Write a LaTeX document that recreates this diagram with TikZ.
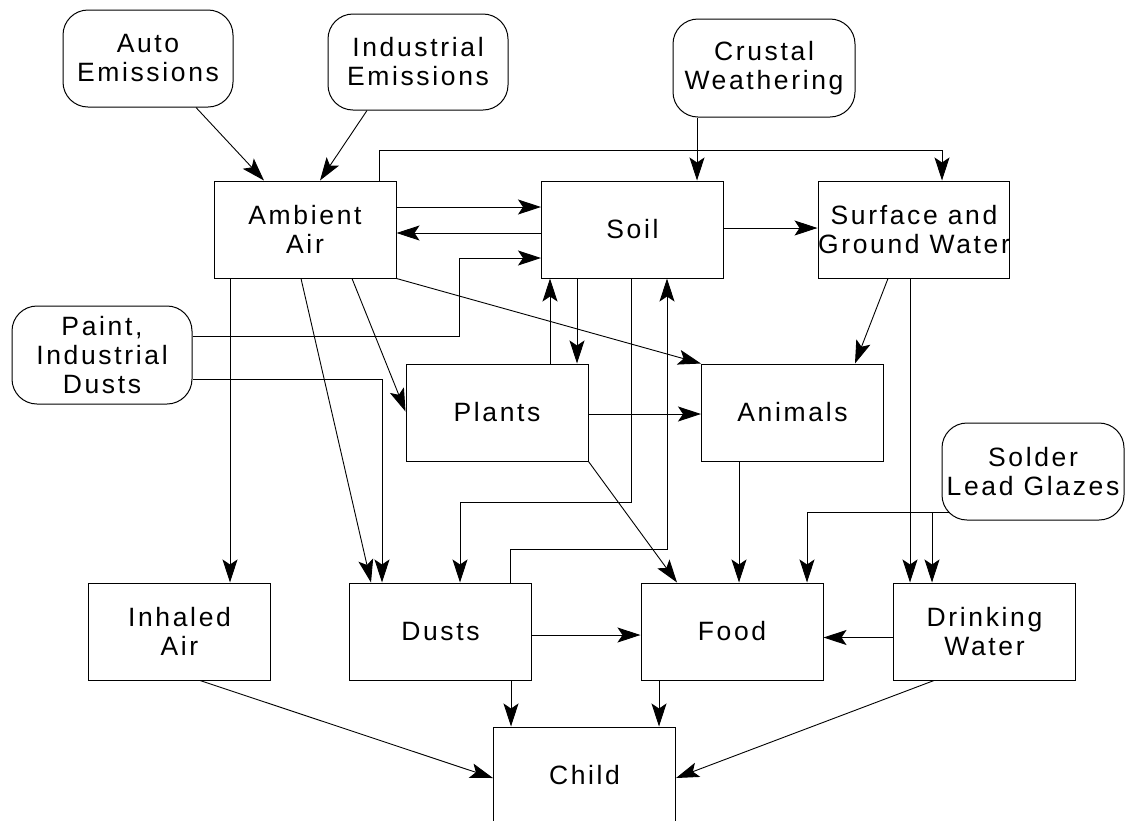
\documentclass[tikz,border=0pt]{standalone}
\usepackage{fontspec}
\setmainfont[LetterSpace=10]{Liberation Sans}
\usetikzlibrary{arrows.meta}
\begin{document}
\begin{tikzpicture}[x=1pt,y=-1pt,
  every node/.style={font=\fontsize{26.5}{29}\selectfont, align=center, inner sep=0pt},
  boxnode/.style={draw, line width=1pt, minimum width=182pt, minimum height=97pt},
  srcnode/.style={draw, line width=1pt, rounded corners=25pt, minimum width=182pt, minimum height=97pt},
  arr/.style={line width=0.9pt, -{Stealth[length=23pt,width=15pt,inset=5pt]}}]
\useasboundingbox (0,0) rectangle (1127,820);

% source nodes
\node[srcnode, minimum width=170pt] (auto) at (148,58.5) {Auto\\Emissions};
\node[srcnode, minimum width=180pt, minimum height=96pt] (indem) at (418,62) {Industrial\\Emissions};
\node[srcnode, minimum height=98pt] (crust) at (764,68) {Crustal\\Weathering};
\node[srcnode, minimum width=180pt, minimum height=98pt] (paint) at (102,355) {Paint,\\Industrial\\Dusts};
\node[srcnode] (solder) at (1033,471.5) {Solder\\Lead Glazes};

% compartments
\node[boxnode] (amb) at (305,229.5) {Ambient\\Air};
\node[boxnode] (soil) at (632.5,229.5) {Soil};
\node[boxnode] (surf) at (914,229.5) {Surface and\\Ground Water};
\node[boxnode] (plants) at (497,412.5) {Plants};
\node[boxnode] (animals) at (792.5,412.5) {Animals};
\node[boxnode] (inhaled) at (179.5,631.5) {Inhaled\\Air};
\node[boxnode] (dusts) at (440.5,631.5) {Dusts};
\node[boxnode] (food) at (732,631.5) {Food};
\node[boxnode] (drink) at (984.5,631.5) {Drinking\\Water};
\node[boxnode] (child) at (584.5,775.5) {Child};

% emissions into ambient air
\draw[arr] ([xshift=48pt]auto.south) -- ([xshift=-41pt]amb.north);
\draw[arr] ([xshift=-51pt]indem.south) -- ([xshift=15pt]amb.north);

% ambient air to surface water (over the top)
\draw[arr] ([xshift=74pt]amb.north) -- ++(0,-30) -| ([xshift=28pt]surf.north);

% crustal weathering to soil
\draw[arr] ([xshift=-67pt]crust.south) -- ([xshift=-67pt]crust.south |- soil.north);

% ambient air <-> soil
\draw[arr] ([yshift=22.5pt]amb.east) -- ([yshift=22.5pt]amb.east -| soil.west);
\draw[arr] ([yshift=-3.5pt]soil.west) -- ([yshift=-3.5pt]soil.west -| amb.east);

% soil to surface water
\draw[arr] ([yshift=1.5pt]soil.east) -- ([yshift=1.5pt]soil.east -| surf.west);

% paint to soil and dusts
\coordinate (pk) at (459,258);
\draw[arr] ([yshift=19pt]paint.east) -| (pk) -- (pk -| soil.west);
\draw[arr] ([yshift=-24pt]paint.east) -| ([xshift=-58.5pt]dusts.north);

% ambient air downward
\draw[arr] ([xshift=-75pt]amb.south) -- ([xshift=-75pt]amb.south |- inhaled.north);
\draw[arr] ([xshift=-4pt]amb.south) -- ([xshift=-69.5pt]dusts.north);
\draw[arr] ([xshift=47pt]amb.south) -- ([yshift=1pt]plants.west);
\draw[arr] (amb.south east) -- (animals.north west);

% plants <-> soil
\draw[arr] ([xshift=53pt]plants.north) -- ([xshift=53pt]plants.north |- soil.south);
\draw[arr] ([xshift=80pt]plants.north |- soil.south) -- ([xshift=80pt]plants.north);

% soil <-> dusts
\draw[arr] ([xshift=-1.5pt]soil.south) -- ++(0,224) -| ([xshift=19.5pt]dusts.north);
\draw[arr] ([xshift=69.5pt]dusts.north) -- ++(0,-33) -| ([xshift=34.5pt]soil.south);

% plants onwards
\draw[arr] ([yshift=-1.5pt]plants.east) -- ([yshift=-1.5pt]plants.east -| animals.west);
\draw[arr] (plants.south east) -- ([xshift=-55pt]food.north);

% surface water onwards
\draw[arr] ([xshift=-26pt]surf.south) -- ([xshift=62.5pt]animals.north);
\draw[arr] ([xshift=-4pt]surf.south) -- ([xshift=-4pt]surf.south |- drink.north);

% animals to food
\draw[arr] ([xshift=-53.5pt]animals.south) -- ([xshift=-53.5pt]animals.south |- food.north);

% solder
\coordinate (sl) at ([xshift=8pt,yshift=-40.5pt]solder.west);
\draw[arr] (sl) -| ([xshift=75pt]food.north);
\draw[arr] ([xshift=-52.5pt]drink.north |- sl) -- ([xshift=-52.5pt]drink.north);

% into food
\draw[arr] ([yshift=-3.5pt]dusts.east) -- ([yshift=-3.5pt]dusts.east -| food.west);
\draw[arr] ([yshift=-6pt]drink.west) -- ([yshift=-6pt]drink.west -| food.east);

% into child
\draw[arr] ([xshift=20.5pt]inhaled.south) -- ([yshift=-2.5pt]child.west);
\draw[arr] ([xshift=70.5pt]dusts.south) -- ([xshift=70.5pt]dusts.south |- child.north);
\draw[arr] ([xshift=-73pt]food.south) -- ([xshift=-73pt]food.south |- child.north);
\draw[arr] ([xshift=-50.5pt]drink.south) -- ([yshift=-2.5pt]child.east);
\end{tikzpicture}
\end{document}
